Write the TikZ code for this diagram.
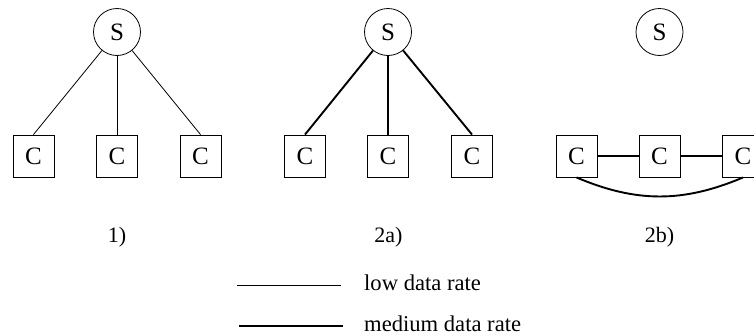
\documentclass[tikz,border=0pt]{standalone}
\usepackage{fontspec}
\setmainfont{Liberation Serif}
\begin{document}
\begin{tikzpicture}[x=1pt,y=-1pt,
  every node/.style={font=\fontsize{22}{26}\selectfont},
  server/.style={circle,draw,line width=0.8pt,minimum size=47pt,inner sep=0pt,
    font=\fontsize{25}{30}\selectfont},
  client/.style={rectangle,draw,line width=0.9pt,minimum width=41pt,minimum height=42pt,inner sep=0pt,
    font=\fontsize{25}{30}\selectfont},
  lowrate/.style={line width=0.8pt},
  medrate/.style={line width=1.9pt},
  caption/.style={anchor=base}]
\useasboundingbox (0,0) rectangle (754,335);
\clip (0,0) rectangle (754,335);

% 1) star with low data rate links
\node[server] (s1) at (117,32) {S};
\node[client] (c11) at (33.5,156) {C};
\node[client] (c12) at (117,156) {C};
\node[client] (c13) at (200.5,156) {C};
\draw[lowrate] (s1) -- (c11.north);
\draw[lowrate] (s1) -- (c12.north);
\draw[lowrate] (s1) -- (c13.north);
\node[caption] (l1) at (117,242) {1)};

% 2a) star with medium data rate links
\node[server] (s2) at (388,32) {S};
\node[client] (c21) at (305,156) {C};
\node[client] (c22) at (388,156) {C};
\node[client] (c23) at (472,156) {C};
\draw[medrate] (s2) -- (c21.north);
\draw[medrate] (s2) -- (c22.north);
\draw[medrate] (s2) -- (c23.north);
\node[caption] (l2) at (388.5,242) {2a)};

% 2b) clients linked among themselves
\node[server] (s3) at (659.5,32) {S};
\node[client] (c31) at (576.5,156) {C};
\node[client] (c32) at (659.5,156) {C};
\node[client] (c33) at (743,156) {C};
\draw[medrate] (c31) -- (c32);
\draw[medrate] (c32) -- (c33);
\draw[medrate] (c31.south) to[bend right=23] (c33.south);
\node[caption] (l3) at (659.5,242) {2b)};

% legend
\coordinate (lowA) at (237,285);
\coordinate (lowB) at (341,285);
\coordinate (medA) at (239,326);
\coordinate (medB) at (343,326);
\draw[lowrate] (lowA) -- (lowB);
\draw[medrate] (medA) -- (medB);
\node[anchor=base west,inner sep=0pt,font=\fontsize{22.6}{27}\selectfont] (lowtxt) at (364,290) {low data rate};
\node[anchor=base west,inner sep=0pt,font=\fontsize{22.6}{27}\selectfont] (medtxt) at (364,331) {medium data rate};
\end{tikzpicture}
\end{document}
